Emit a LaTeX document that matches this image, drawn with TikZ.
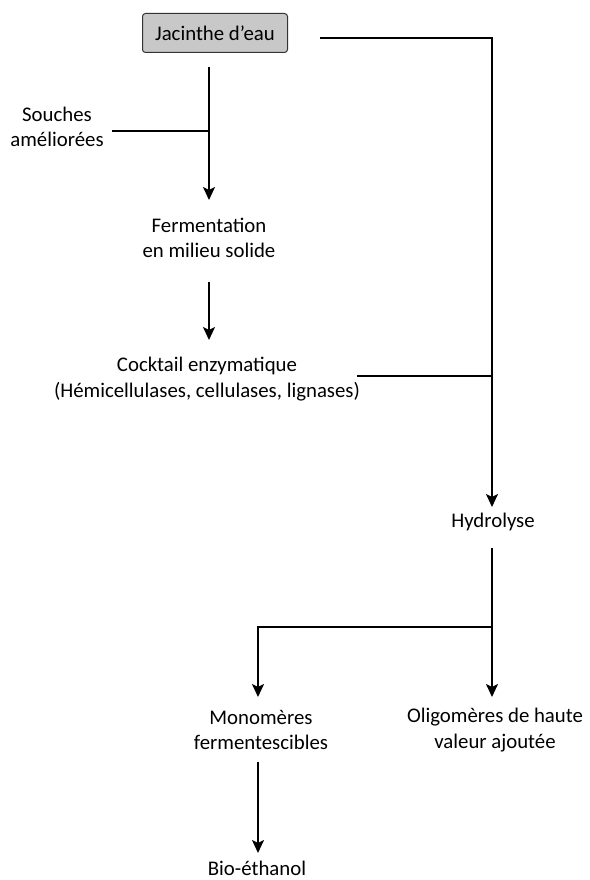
\documentclass[tikz,border=0pt]{standalone}
\usepackage{fontspec}
\setmainfont{Carlito}
\usetikzlibrary{arrows.meta}
\begin{document}
\begin{tikzpicture}[x=1pt,y=-1pt,
  lbl/.style={align=center,font=\fontsize{20.8}{25.5}\selectfont,inner sep=0pt},
  conn/.style={line width=2pt},
  arr/.style={conn,-{Stealth[length=13pt,width=12pt,inset=3pt]}}]
\useasboundingbox (0,0) rectangle (589,880);
\node[lbl,draw=black!80,fill={rgb,255:red,200;green,200;blue,200},rounded corners=3pt,minimum width=145pt,minimum height=39pt,line width=1pt] (jac) at (215,33) {Jacinthe d’eau};
\node[lbl] (sou) at (57,127) {Souches\\améliorées};
\node[lbl] (fer) at (209,238) {Fermentation\\en milieu solide};
\node[lbl] (coc) at (207,379) {Cocktail enzymatique\\(Hémicellulases, cellulases, lignases)};
\node[lbl] (hyd) at (493,522) {Hydrolyse};
\node[lbl] (mon) at (261,730) {Monomères\\fermentescibles};
\node[lbl] (oli) at (495,730) {Oligomères de haute\\valeur ajoutée};
\node[lbl] (bio) at (257,868) {Bio-éthanol};
\coordinate (a1) at (209,67);
\coordinate (j1) at (209,131);
\coordinate (s1) at (112,131);
\coordinate (r0) at (320,38);
\coordinate (r1) at (492,38);
\coordinate (c0) at (357,376);
\coordinate (c1) at (492,376);
\coordinate (h0) at (492,548);
\coordinate (h1) at (492,627);
\coordinate (m1) at (258,627);
\draw[arr] (a1) -- (209,200);
\draw[conn] (s1) -- (j1);
\draw[arr] (209,282) -- (209,340);
\draw[arr] (r0) -- (r1) -- (492,507);
\draw[conn] (c0) -- (c1);
\draw[arr] (h0) -- (492,697);
\draw[arr] (h1) -- (m1) -- (258,697);
\draw[arr] (258,762) -- (258,853);
\end{tikzpicture}
\end{document}
